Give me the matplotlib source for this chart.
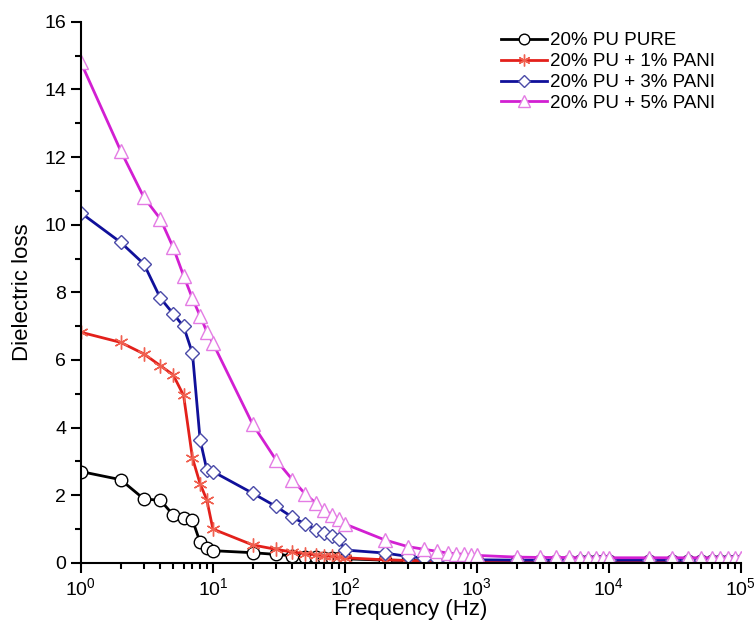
import numpy as np
import matplotlib.pyplot as plt

plt.rcParams['font.family'] = ['Liberation Sans', 'DejaVu Sans']

freq = [1, 2, 3, 4, 5, 6, 7, 8, 9,
        10, 20, 30, 40, 50, 60, 70, 80, 90,
        100, 200, 300, 400, 500, 600, 700, 800, 900,
        1000, 2000, 3000, 4000, 5000, 6000, 7000, 8000, 9000,
        10000, 20000, 30000, 40000, 50000, 60000, 70000, 80000, 90000,
        100000]

pure = [2.70, 2.46, 1.89, 1.85, 1.42, 1.32, 1.27, 0.61, 0.45,
        0.36, 0.30, 0.25, 0.21, 0.18, 0.16, 0.15, 0.14, 0.13,
        0.12, 0.08, 0.07, 0.06, 0.06, 0.05, 0.05, 0.05, 0.05,
        0.04, 0.04, 0.04, 0.04, 0.04, 0.04, 0.04, 0.04, 0.04,
        0.04, 0.04, 0.04, 0.04, 0.04, 0.04, 0.04, 0.04, 0.04,
        0.04]

pani1 = [6.82, 6.52, 6.18, 5.83, 5.56, 4.95, 3.10, 2.34, 1.86,
         1.00, 0.53, 0.40, 0.32, 0.27, 0.24, 0.21, 0.19, 0.17,
         0.15, 0.09, 0.07, 0.06, 0.05, 0.05, 0.05, 0.04, 0.04,
         0.04, 0.04, 0.04, 0.04, 0.04, 0.04, 0.04, 0.04, 0.04,
         0.04, 0.04, 0.04, 0.04, 0.04, 0.04, 0.04, 0.04, 0.04,
         0.04]

pani3 = [10.35, 9.48, 8.84, 7.83, 7.37, 6.99, 6.20, 3.64, 2.75,
         2.70, 2.06, 1.67, 1.35, 1.15, 0.98, 0.88, 0.80, 0.70,
         0.38, 0.29, 0.19, 0.14, 0.12, 0.11, 0.10, 0.10, 0.09,
         0.09, 0.08, 0.08, 0.08, 0.08, 0.08, 0.08, 0.08, 0.08,
         0.08, 0.08, 0.08, 0.08, 0.08, 0.08, 0.08, 0.08, 0.08,
         0.08]

pani5 = [14.80, 12.19, 10.81, 10.17, 9.33, 8.49, 7.82, 7.30, 6.84,
         6.50, 4.10, 3.05, 2.46, 2.04, 1.77, 1.55, 1.42, 1.29,
         1.15, 0.68, 0.48, 0.40, 0.34, 0.29, 0.27, 0.25, 0.23,
         0.22, 0.17, 0.16, 0.16, 0.16, 0.15, 0.15, 0.15, 0.15,
         0.15, 0.15, 0.15, 0.15, 0.15, 0.15, 0.15, 0.15, 0.15,
         0.15]

fig = plt.figure(figsize=(7.56, 6.24), dpi=100)
ax = fig.add_axes([0.107, 0.098, 0.873, 0.867])

ax.plot(freq, pure, color='black', lw=2, marker='o', ms=9,
        mfc='white', mec='black', mew=1, label='20% PU PURE')
ax.plot(freq, pani1, color='#e3201b', lw=2, marker=(6, 2, 0), ms=10,
        mec='#f06050', mew=1, label='20% PU + 1% PANI')
ax.plot(freq, pani3, color='#10109a', lw=2, marker='D', ms=7.5,
        mfc='white', mec='#4a4aa8', mew=1, label='20% PU + 3% PANI')
ax.plot(freq, pani5, color='#d21fd2', lw=2, marker='^', ms=10,
        mfc='white', mec='#e47ce4', mew=1, label='20% PU + 5% PANI')

ax.set_xscale('log')
ax.set_xlim(1, 1e5)
ax.set_ylim(0, 16)
ax.set_yticks(range(0, 17, 2))
ax.set_yticks(range(1, 16, 2), minor=True)

ax.spines['top'].set_visible(False)
ax.spines['right'].set_visible(False)
ax.spines['left'].set_linewidth(1.5)
ax.spines['bottom'].set_linewidth(1.5)
ax.tick_params(which='major', direction='out', length=7, width=1.5, labelsize=14)
ax.tick_params(which='minor', direction='out', length=4, width=1.5)

ax.set_xlabel('Frequency (Hz)', fontsize=16, labelpad=0)
ax.set_ylabel('Dielectric loss', fontsize=16, labelpad=8)

ax.legend(loc='upper right', frameon=False, fontsize=13.5,
          handlelength=2.5, handletextpad=0.15, labelspacing=0.2,
          markerscale=0.85, bbox_to_anchor=(0.987, 1.012))

fig.savefig('out.png', dpi=100)
